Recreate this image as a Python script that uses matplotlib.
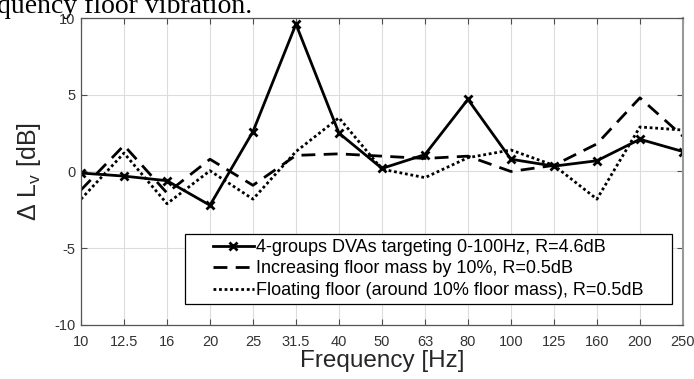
import numpy as np
import matplotlib.pyplot as plt
from matplotlib.patches import Rectangle

# ── Data ──────────────────────────────────────────────────────────
freqs = ["10", "12.5", "16", "20", "25", "31.5", "40", "50", "63", "80",
         "100", "125", "160", "200", "250"]

dva   = [-0.1, -0.3, -0.6, -2.2, 2.6, 9.6, 2.5, 0.2, 1.1, 4.7, 0.8, 0.35, 0.7, 2.1, 1.3]
mass  = [-1.2, 1.7, -1.4, 0.8, -0.9, 1.05, 1.15, 1.0, 0.85, 1.0, 0.0, 0.4, 1.8, 4.8, 2.3]
float_ = [-1.8, 1.2, -2.1, 0.05, -1.8, 1.3, 3.5, 0.15, -0.4, 0.9, 1.4, 0.4, -1.8, 2.9, 2.7]

labels = ["4-groups DVAs targeting 0-100Hz, R=4.6dB",
          "Increasing floor mass by 10%, R=0.5dB",
          "Floating floor (around 10% floor mass), R=0.5dB"]

# ── Figure ────────────────────────────────────────────────────────
plt.rcParams["font.family"] = ["Liberation Sans", "DejaVu Sans"]
plt.rcParams["axes.unicode_minus"] = False
plt.rcParams["mathtext.fontset"] = "custom"
plt.rcParams["mathtext.rm"] = "Liberation Sans"
plt.rcParams["mathtext.it"] = "Liberation Sans"

fig = plt.figure(figsize=(6.94, 3.79), dpi=100)
ax = fig.add_axes([0.1167, 0.1425, 0.8673, 0.81])

x = np.arange(len(freqs))
ax.plot(x, dva, "k-", lw=2, marker="x", ms=6, mew=2, label=labels[0])
ax.plot(x, mass, "k", lw=2, dashes=(5, 3), label=labels[1])
ax.plot(x, float_, "k", lw=2, dashes=(1, 1), label=labels[2])

ax.set_xlim(0, len(freqs) - 1)
ax.set_ylim(-10, 10)
ax.set_xticks(x)
ax.set_xticklabels(freqs)
ax.set_yticks([-10, -5, 0, 5, 10])
ax.grid(True, color="#dcdcdc", lw=0.8)
ax.set_axisbelow(True)
ax.tick_params(direction="in", top=True, right=True, length=4,
               colors="#4d4d4d", labelsize=10.5, labelcolor="#333333", pad=4)
ax.tick_params(axis="x", pad=7)
for sp in ax.spines.values():
    sp.set_color("#555555")
    sp.set_linewidth(0.9)
ax.spines["right"].set_color("#999999")
ax.spines["right"].set_linewidth(1.5)

ax.set_xlabel("Frequency [Hz]", fontsize=17.5, color="#262626", labelpad=1)
ax.set_ylabel(r"$\Delta$ L$_\mathrm{v}$ [dB]", fontsize=18, color="#262626", labelpad=8)

# MATLAB-style legend: wide horizontal padding, box drawn around it
leg = ax.legend(loc="lower right", bbox_to_anchor=(0.935, 0.085), fontsize=13,
                frameon=False, handlelength=2.25, handletextpad=0.15,
                borderpad=0, labelspacing=0.25, borderaxespad=0)
leg.set_zorder(6)

# cropped caption text from the page above the figure
fig.text(-0.004, 1 - 13 / 379, "quency floor vibration.", fontsize=20,
         family=["Liberation Serif", "DejaVu Serif"], ha="left", va="baseline")

fig.canvas.draw()
bb = leg.get_window_extent().transformed(fig.transFigure.inverted())
padx, pady = 28 / 694, 5 / 379
box = Rectangle((bb.x0 - padx, bb.y0 - pady), bb.width + 2 * padx, bb.height + 2 * pady,
                transform=fig.transFigure, facecolor="white", edgecolor="black",
                lw=0.9, zorder=5, clip_on=False)
ax.add_patch(box)

fig.savefig("out.png", dpi=100)
